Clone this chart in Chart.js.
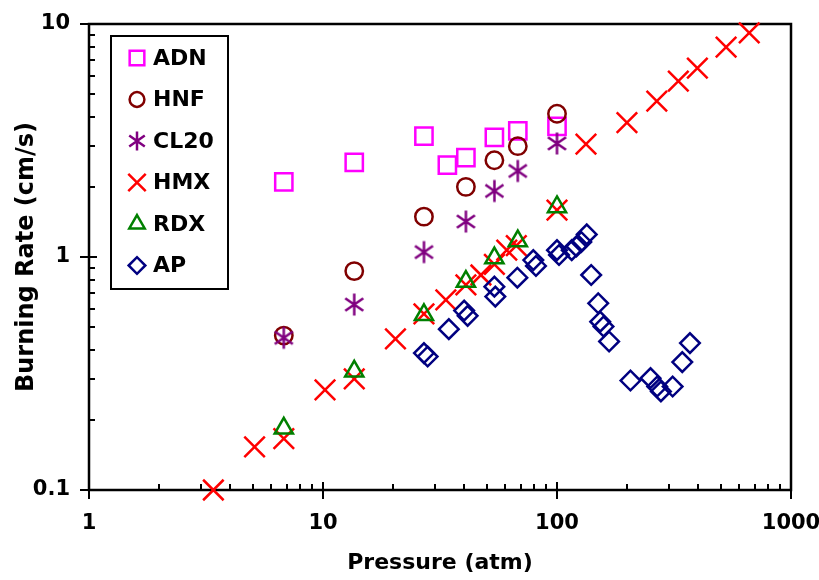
<!DOCTYPE html>
<html lang="en">
<head>
  <meta charset="UTF-8" />
  <title>Burning Rate vs Pressure</title>
  <script src="https://cdn.jsdelivr.net/npm/chart.js"></script>
  <style>
    html, body { margin: 0; padding: 0; background: #fff; }
    #wrap { width: 819px; height: 580px; }
  </style>
</head>
<body>
  <div id="wrap"><canvas id="rateChart" width="819" height="580"></canvas></div>
  <script>
    // Pressure (atm) and burning rate (cm/s) for each propellant
    const adnP = [6.8, 13.6, 27, 34, 40.8, 54, 68, 100];
    const adnRate = [2.1, 2.55, 3.3, 2.48, 2.67, 3.26, 3.48, 3.64];

    const hnfP = [6.8, 13.6, 27, 40.8, 54, 68, 100];
    const hnfRate = [0.46, 0.87, 1.49, 2.0, 2.6, 2.99, 4.12];

    const cl20P = [6.8, 13.6, 27, 40.8, 54, 68, 100];
    const cl20Rate = [0.45, 0.625, 1.05, 1.42, 1.92, 2.34, 3.07];

    const hmxP = [3.4, 5.1, 6.8, 10.2, 13.6, 20.4, 27, 33.5, 40.8, 47.3, 54, 61, 67, 100,
                  133, 199, 267, 330, 398, 528, 663];
    const hmxRate = [0.1, 0.153, 0.166, 0.269, 0.3, 0.445, 0.57, 0.655, 0.76, 0.837, 0.93, 1.07, 1.12, 1.59,
                     3.05, 3.77, 4.67, 5.69, 6.47, 7.96, 9.17];

    const rdxP = [6.8, 13.6, 27, 40.8, 54, 68, 100];
    const rdxRate = [0.184, 0.323, 0.565, 0.784, 0.99, 1.17, 1.64];

    const apP = [27, 28, 34.5, 40.1, 41.5, 54, 54.5, 67.7, 79.2, 81.3, 100, 102, 115.6, 121, 127, 134,
                 140, 150, 153, 158, 167, 206, 251, 268, 278, 312, 343, 370];
    const apRate = [0.387, 0.374, 0.49, 0.589, 0.559, 0.746, 0.676, 0.815, 0.97, 0.915, 1.07, 1.02, 1.07, 1.11, 1.16, 1.25,
                    0.837, 0.633, 0.528, 0.503, 0.434, 0.295, 0.302, 0.278, 0.265, 0.278, 0.354, 0.427];

    const xTickLabels = [1, 10, 100, 1000];
    const yTickLabels = [0.1, 1, 10];

    const FONT = '"DejaVu Sans", Arial, sans-serif';

    function pairs(xs, ys) {
      return xs.map((x, i) => ({ x: x, y: ys[i] }));
    }

    // six-spoke asterisk marker, drawn once to a small canvas
    function makeAsterisk(color, r, lw) {
      const size = Math.ceil(r * 2 + lw * 2);
      const c = document.createElement('canvas');
      c.width = c.height = size;
      const g = c.getContext('2d');
      const m = size / 2;
      g.strokeStyle = color;
      g.lineWidth = lw;
      g.beginPath();
      [0, 55, -55].forEach(a => {
        const t = a * Math.PI / 180;
        const dx = Math.sin(t) * r, dy = Math.cos(t) * r;
        g.moveTo(m - dx, m - dy);
        g.lineTo(m + dx, m + dy);
      });
      g.stroke();
      return c;
    }

    // log ticks: decades plus 2..9 minors
    function decadeTicks(majors) {
      const vals = [];
      for (let i = 0; i < majors.length - 1; i++) {
        for (let k = 1; k < 10; k++) vals.push(majors[i] * k);
      }
      vals.push(majors[majors.length - 1]);
      return vals;
    }

    function series(label, xs, ys, color, style, radius, order, legendStyle) {
      return {
        label: label,
        data: pairs(xs, ys),
        pointStyle: style,
        legendStyle: legendStyle || style,
        pointRadius: radius,
        pointHoverRadius: radius,
        pointBorderWidth: 2.5,
        pointBorderColor: color,
        pointBackgroundColor: 'rgba(0,0,0,0)',
        showLine: false,
        clip: false,
        order: order
      };
    }

    const frameAndTicks = {
      id: 'frameAndTicks',
      beforeDatasetsDraw(chart) {
        const { ctx, chartArea: a, scales: { x, y } } = chart;
        ctx.save();
        ctx.strokeStyle = '#000';
        ctx.lineWidth = 2;
        ctx.beginPath();
        x.ticks.forEach(t => {
          const px = Math.round(x.getPixelForValue(t.value));
          const major = xTickLabels.includes(t.value);
          ctx.moveTo(px, a.bottom + (major ? 9 : 0));
          ctx.lineTo(px, a.bottom - (major ? 8 : 6));
        });
        y.ticks.forEach(t => {
          const py = Math.round(y.getPixelForValue(t.value));
          const major = yTickLabels.includes(t.value);
          ctx.moveTo(a.left - (major ? 9 : 0), py);
          ctx.lineTo(a.left + (major ? 8 : 6), py);
        });
        ctx.stroke();
        ctx.lineWidth = 2.5;
        ctx.strokeRect(a.left, a.top, a.right - a.left, a.bottom - a.top);
        ctx.restore();
      }
    };

    const boxedLegend = {
      id: 'boxedLegend',
      afterDatasetsDraw(chart) {
        const { ctx, chartArea: a } = chart;
        const x0 = a.left + 22, y0 = a.top + 12;
        ctx.save();
        ctx.fillStyle = '#fff';
        ctx.fillRect(x0, y0, 117, 253);
        ctx.strokeStyle = '#000';
        ctx.lineWidth = 2;
        ctx.strokeRect(x0, y0, 117, 253);
        chart.data.datasets.forEach((ds, i) => {
          const cy = y0 + 22 + i * 41.5;
          ctx.strokeStyle = ds.pointBorderColor;
          ctx.fillStyle = 'rgba(0,0,0,0)';
          ctx.lineWidth = ds.pointBorderWidth;
          Chart.helpers.drawPoint(ctx, {
            pointStyle: ds.legendStyle,
            rotation: 0,
            radius: ds.pointRadius * 0.85,
            borderWidth: ds.pointBorderWidth
          }, x0 + 26, cy);
          ctx.fillStyle = '#000';
          ctx.font = 'bold 22px ' + FONT;
          ctx.textBaseline = 'middle';
          ctx.textAlign = 'left';
          ctx.fillText(ds.label, x0 + 42, cy + 1);
        });
        ctx.restore();
      }
    };

    new Chart(document.getElementById('rateChart'), {
      type: 'scatter',
      data: {
        datasets: [
          series('ADN', adnP, adnRate, '#FF00FF', 'rect', 12.2, 6),
          series('HNF', hnfP, hnfRate, '#800000', 'circle', 8.7, 5),
          series('CL20', cl20P, cl20Rate, '#800080', makeAsterisk('#800080', 11, 2.5), 11, 4,
                 makeAsterisk('#800080', 9.5, 2.5)),
          series('HMX', hmxP, hmxRate, '#FF0000', 'crossRot', 14.5, 3),
          series('RDX', rdxP, rdxRate, '#008000', 'triangle', 10.5, 2),
          series('AP', apP, apRate, '#000080', 'rectRot', 9.8, 1)
        ]
      },
      options: {
        responsive: false,
        animation: false,
        events: [],
        layout: { padding: { left: 0, right: 28, top: 24, bottom: 0 } },
        plugins: {
          legend: { display: false },
          tooltip: { enabled: false }
        },
        scales: {
          x: {
            type: 'logarithmic',
            position: 'bottom',
            min: 1,
            max: 1000,
            grid: { display: false, drawTicks: false },
            border: { display: false },
            afterBuildTicks: scale => {
              scale.ticks = decadeTicks(xTickLabels).map(v => ({ value: v }));
            },
            afterFit: scale => {
              scale.height = 90;
              scale.paddingLeft = 0;
              scale.paddingRight = 0;
            },
            ticks: {
              autoSkip: false,
              maxRotation: 0,
              padding: 21,
              color: '#000',
              font: { family: FONT, size: 21, weight: 'bold' },
              callback: v => xTickLabels.includes(v) ? String(v) : ''
            },
            title: {
              display: true,
              text: 'Pressure (atm)',
              color: '#000',
              padding: { top: 0, bottom: 4 },
              font: { family: FONT, size: 22, weight: 'bold' }
            }
          },
          y: {
            type: 'logarithmic',
            position: 'left',
            min: 0.1,
            max: 10,
            grid: { display: false, drawTicks: false },
            border: { display: false },
            afterBuildTicks: scale => {
              scale.ticks = decadeTicks(yTickLabels).map(v => ({ value: v }));
            },
            afterFit: scale => {
              scale.width = 89;
              scale.paddingTop = 0;
              scale.paddingBottom = 0;
            },
            ticks: {
              autoSkip: false,
              padding: 19,
              color: '#000',
              font: { family: FONT, size: 21, weight: 'bold' },
              callback: v => yTickLabels.includes(v) ? String(v) : ''
            },
            title: {
              display: true,
              text: 'Burning Rate (cm/s)',
              color: '#000',
              padding: { top: 12, bottom: 0 },
              font: { family: FONT, size: 24, weight: 'bold' }
            }
          }
        }
      },
      plugins: [frameAndTicks, boxedLegend]
    });
  </script>
</body>
</html>
